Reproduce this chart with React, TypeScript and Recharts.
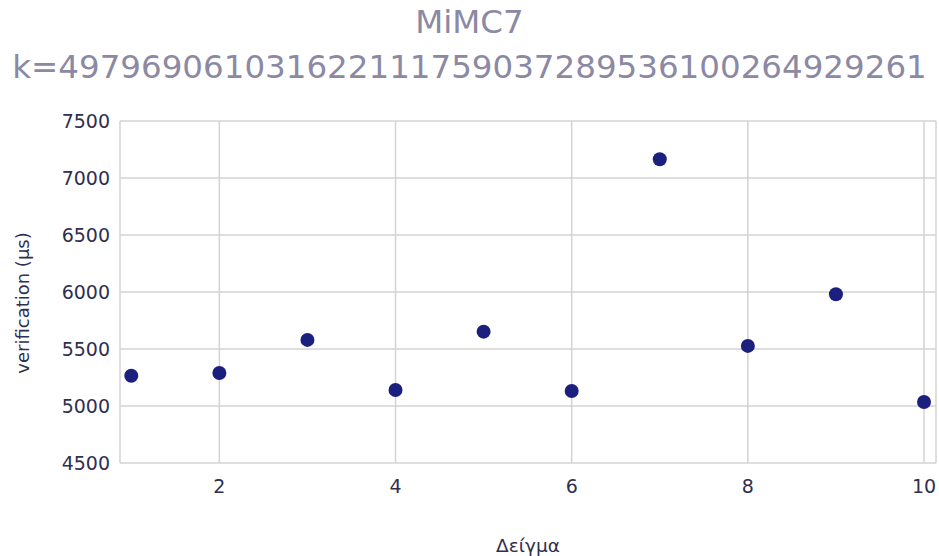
import { ScatterChart, Scatter, XAxis, YAxis, CartesianGrid, Label } from "recharts";

const samples = [1, 2, 3, 4, 5, 6, 7, 8, 9, 10];
const verification = [5265, 5290, 5580, 5140, 5652, 5132, 7165, 5527, 5980, 5035];
const xTicks = [2, 4, 6, 8, 10];
const yTicks = [4500, 5000, 5500, 6000, 6500, 7000, 7500];

const data = samples.map((x, i) => ({ x, y: verification[i] }));

const font = "Verdana, 'DejaVu Sans', sans-serif";
const tickColor = "#2f2f4f";

const Dot = (props: any) => <circle cx={props.cx} cy={props.cy} r={7} fill="#1b1f7d" />;

export default function App() {
  return (
    <div style={{ position: "absolute", left: 0, top: 0, width: 939, height: 556, background: "#fff", fontFamily: font }}>
      <div
        style={{
          position: "absolute",
          left: 0,
          top: 0,
          width: 939,
          textAlign: "center",
          color: "#8b89a3",
          fontSize: 32.5,
          lineHeight: "45px",
        }}
      >
        MiMC7
        <br />
        k=497969061031622111759037289536100264929261
      </div>
      <ScatterChart width={939} height={556} margin={{ top: 121, right: 3, bottom: 63, left: 60 }}>
        <CartesianGrid stroke="#d3d3d3" strokeWidth={1.5} />
        <XAxis
          type="number"
          dataKey="x"
          domain={[0.872, 10.136]}
          ticks={xTicks}
          allowDataOverflow
          axisLine={false}
          tickLine={false}
          tickMargin={11}
          height={30}
          tick={{ fill: tickColor, fontSize: 19, fontFamily: font }}
        >
          <Label value="Δείγμα" position="bottom" offset={46} fill={tickColor} fontSize={18.5} fontFamily={font} />
        </XAxis>
        <YAxis
          type="number"
          dataKey="y"
          domain={[4500, 7500]}
          ticks={yTicks}
          allowDataOverflow
          axisLine={false}
          tickLine={false}
          tickMargin={4}
          width={60}
          tick={{ fill: tickColor, fontSize: 19, fontFamily: font }}
        />
        <Scatter data={data} shape={Dot} isAnimationActive={false} />
      </ScatterChart>
      <div
        style={{
          position: "absolute",
          left: 22,
          top: 303,
          transform: "translate(-50%, -50%) rotate(-90deg)",
          whiteSpace: "nowrap",
          color: tickColor,
          fontSize: 18,
        }}
      >
        verification (μs)
      </div>
    </div>
  );
}
